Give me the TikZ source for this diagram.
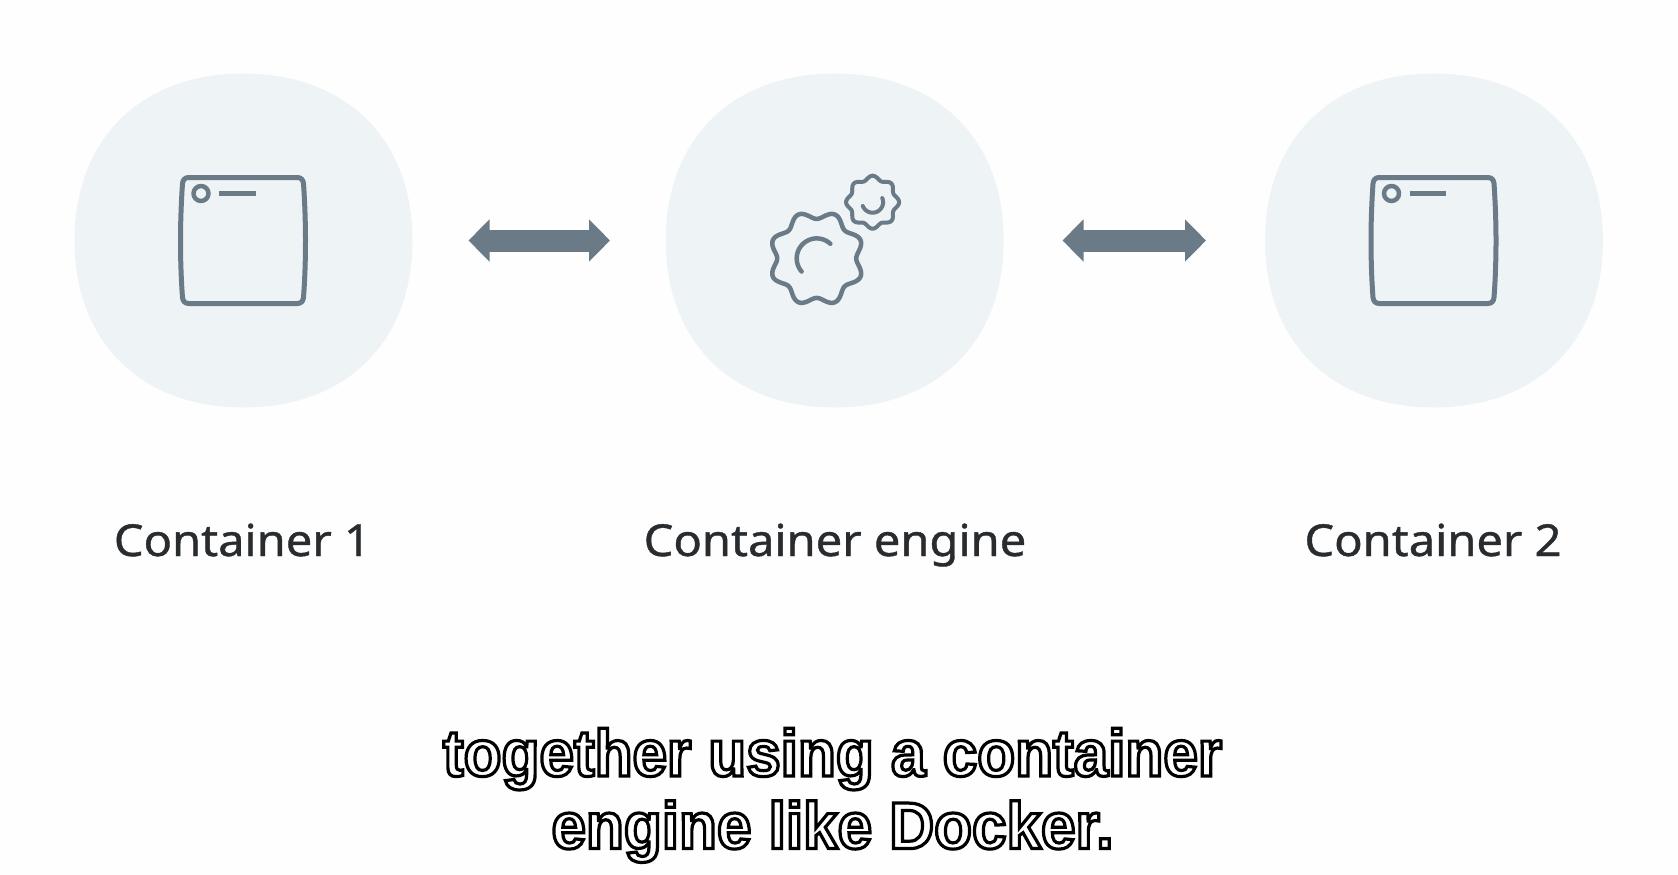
\documentclass[tikz,border=0pt]{standalone}
\usepackage{fontspec}
\usetikzlibrary{arrows.meta,calc}
\newfontfamily\labelfont[FakeStretch=1.07,FakeBold=0.9]{Noto Sans}
\newfontfamily\subfont[FakeStretch=0.94]{Liberation Sans Bold}
\definecolor{pagebg}{HTML}{FEFEFE}
\definecolor{blobfill}{HTML}{EEF4F6}
\definecolor{iconcol}{HTML}{6B7A87}
\definecolor{labelcol}{HTML}{282C2F}
\newcommand{\gearicon}[5]{%
  \draw [icon, line width=#5] plot [smooth cycle, domain=0:357.5, samples=144]
  ({#1+(#3+#4*cos(8*\x))*cos(\x)},{#2-(#3+#4*cos(8*\x))*sin(\x)});
}
\newcommand{\subline}[1]{%
  {\color{white}\special{pdf:code 0 0 0 RG 2 Tr 3.2 w}#1}%
  \special{pdf:code 0 Tr}%
}
\tikzstyle{blob}=[
  circle,
  inner sep=0pt,
  minimum size=338pt,
  outer sep=0pt,
]
\tikzstyle{icon}=[
  draw=iconcol,
  line cap=round,
  line join=round,
]
\tikzstyle{biarrow}=[
  {Triangle[length=21pt,width=41pt]}-{Triangle[length=21pt,width=41pt]},
  color=iconcol,
  line width=22pt,
]
\tikzstyle{boxlabel}=[
  anchor=base,
  color=labelcol,
  font={\labelfont\fontsize{44}{50}\selectfont},
  inner sep=0pt,
]
\tikzstyle{subtitle}=[
  align=center,
  anchor=base,
  font={\subfont\fontsize{66}{72.5}\selectfont},
  inner sep=0pt,
]
\tikzset{
  x=1pt,
  y=-1pt,
}
\begin{document}
\begin{tikzpicture}
  \path [use as bounding box, fill=pagebg] (0,0) rectangle (1678,875);
  %%
  \node (conone) [blob] at (243.5,240.5) {};
  \node (engine) [blob] at (834.7,240.5) {};
  \node (contwo) [blob] at (1434,240.5) {};
  %%
  \foreach \n in {conone,engine,contwo} {
    \fill [blobfill] ($(\n)+(-169,0)$)
    .. controls ($(\n)+(-169,-102)$) and ($(\n)+(-102,-167)$) .. ($(\n)+(0,-167)$)
    .. controls ($(\n)+(102,-167)$) and ($(\n)+(169,-102)$) .. ($(\n)+(169,0)$)
    .. controls ($(\n)+(169,102)$) and ($(\n)+(102,167)$) .. ($(\n)+(0,167)$)
    .. controls ($(\n)+(-102,167)$) and ($(\n)+(-169,102)$) .. cycle;
  }
  %%
  \foreach \n in {conone,contwo} {
    \begin{scope}[shift={($(\n)+(-0.5,0)$)}]
      \draw [icon, line width=5pt] (-54,-63) -- (54,-63)
      .. controls (58,-63) and (60,-61) .. (60.5,-57)
      .. controls (62,-35) and (62.5,-15) .. (62.5,0)
      .. controls (62.5,17) and (62,37) .. (60.5,57)
      .. controls (60,61) and (58,63) .. (54,63)
      -- (-54,63)
      .. controls (-58,63) and (-60,61) .. (-60.5,57)
      .. controls (-62,37) and (-62.5,17) .. (-62.5,0)
      .. controls (-62.5,-15) and (-62,-35) .. (-60.5,-57)
      .. controls (-60,-61) and (-58,-63) .. cycle;
      \draw [icon, line width=4.5pt] (-42,-47) circle (7.5);
      \draw [icon, line width=4.5pt, line cap=butt] (-24,-47) -- (12.5,-47);
    \end{scope}
  }
  %%
  \begin{scope}[shift={(engine)}]
    \gearicon{-18}{17.9}{43.5}{-4}{4.5pt}
    \gearicon{37.9}{-38.3}{24.5}{2}{4pt}
    \draw [icon, line width=4.5pt] plot [smooth, domain=47:221, samples=30]
    ({-18+20*cos(\x)},{17.9-20*sin(\x)});
    \draw [icon, line width=4pt] plot [smooth, domain=201:383, samples=30]
    ({37.9+10.5*cos(\x)},{-38.3-10.5*sin(\x)});
  \end{scope}
  %%
  \draw [biarrow, shorten <=56pt, shorten >=55.7pt] (conone) -- (engine);
  \draw [biarrow, shorten <=58.8pt, shorten >=59pt] (engine) -- (contwo);
  %%
  \node (labelone) [boxlabel] at (242.4,556) {Container 1};
  \node (labelengine) [boxlabel] at (835,556) {Container engine};
  \node (labeltwo) [boxlabel] at (1433,556) {Container 2};
  %%
  \node (caption) [subtitle] at (832.5,848.5) {\subline{together using a container}\\\subline{engine like Docker.}};
\end{tikzpicture}
\end{document}
